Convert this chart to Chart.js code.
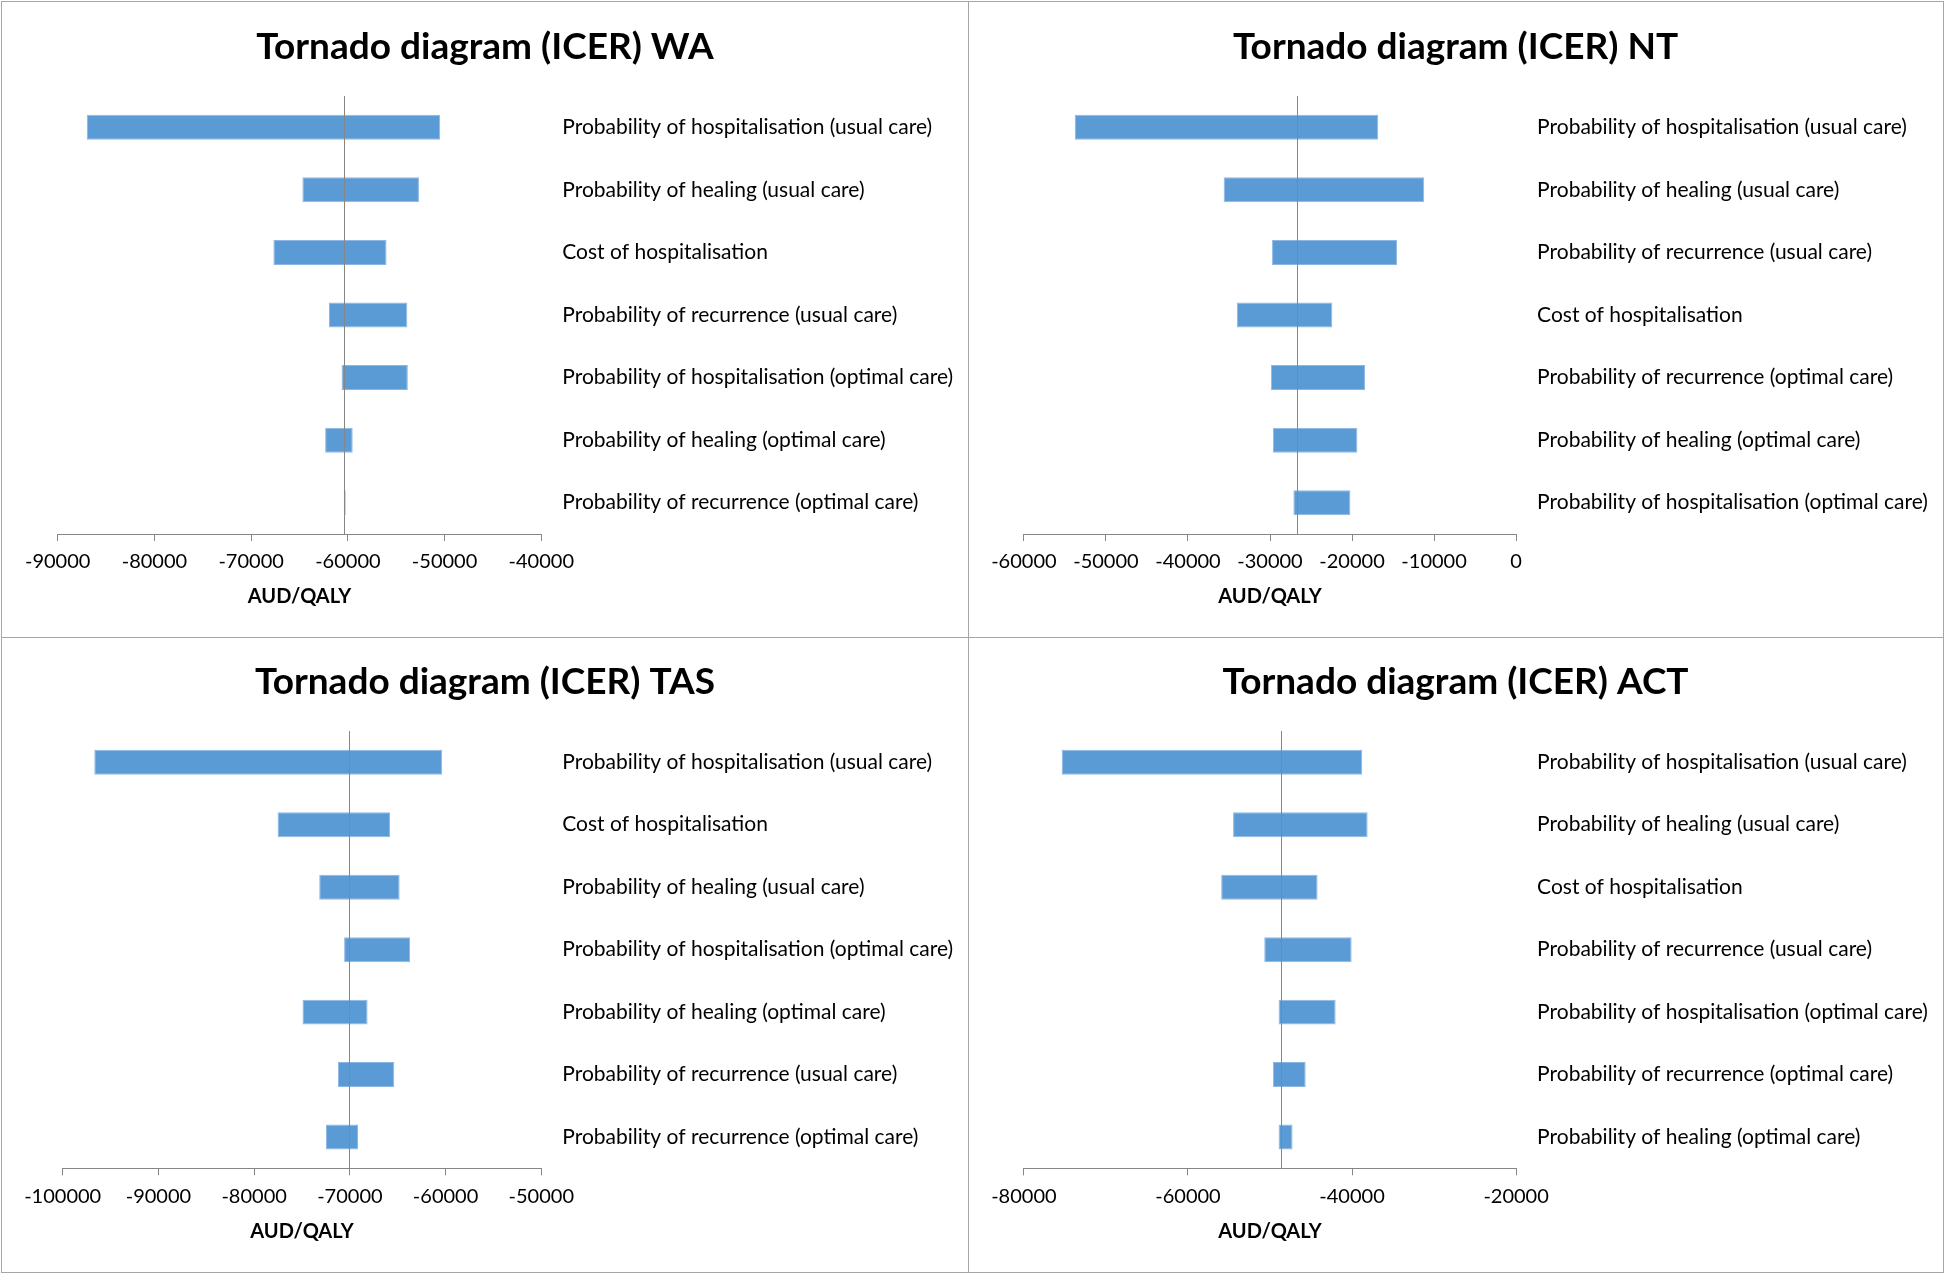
<!DOCTYPE html>
<html>
<head>
<meta charset="utf-8">
<script src="https://cdn.jsdelivr.net/npm/chart.js@4.4.1/dist/chart.umd.min.js"></script>
<style>
  html, body { margin: 0; padding: 0; background: #ffffff; }
  #page { position: relative; width: 1946px; height: 1275px; background: #ffffff; overflow: hidden; }
  .panel { position: absolute; }
  .line { position: absolute; background: #a6a6a6; }
</style>
</head>
<body>
<div id="page">
  <div class="panel" style="left:2px; top:2px; width:966px; height:635px;"><canvas id="cWA" width="966" height="635"></canvas></div>
  <div class="panel" style="left:968px; top:2px; width:975px; height:635px;"><canvas id="cNT" width="975" height="635"></canvas></div>
  <div class="panel" style="left:2px; top:637px; width:966px; height:635px;"><canvas id="cTAS" width="966" height="635"></canvas></div>
  <div class="panel" style="left:968px; top:637px; width:975px; height:635px;"><canvas id="cACT" width="975" height="635"></canvas></div>
  <div class="line" style="left:1px; top:1px; width:1943px; height:1px;"></div>
  <div class="line" style="left:1px; top:1272px; width:1943px; height:1px;"></div>
  <div class="line" style="left:1px; top:1px; width:1px; height:1272px;"></div>
  <div class="line" style="left:1943px; top:1px; width:1px; height:1272px;"></div>
  <div class="line" style="left:968px; top:1px; width:1px; height:1272px;"></div>
  <div class="line" style="left:1px; top:637px; width:1943px; height:1px;"></div>
</div>
<script>
// ---------- DATA ----------
const waLabels = [
  "Probability of hospitalisation (usual care)",
  "Probability of healing (usual care)",
  "Cost of hospitalisation",
  "Probability of recurrence (usual care)",
  "Probability of hospitalisation (optimal care)",
  "Probability of healing (optimal care)",
  "Probability of recurrence (optimal care)"
];
const waLow  = [-87000, -64700, -67700, -61950, -60650, -62350, -60420];
const waHigh = [-50450, -52650, -56000, -53850, -53800, -59500, -60220];
const waBase = -60350;
const waAxis = [-90000, -40000, 10000];

const ntLabels = [
  "Probability of hospitalisation (usual care)",
  "Probability of healing (usual care)",
  "Probability of recurrence (usual care)",
  "Cost of hospitalisation",
  "Probability of recurrence (optimal care)",
  "Probability of healing (optimal care)",
  "Probability of hospitalisation (optimal care)"
];
const ntLow  = [-53800, -35650, -29750, -34050, -29900, -29650, -27150];
const ntHigh = [-16800, -11200, -14500, -22400, -18400, -19350, -20200];
const ntBase = -26700;
const ntAxis = [-60000, 0, 10000];

const tasLabels = [
  "Probability of hospitalisation (usual care)",
  "Cost of hospitalisation",
  "Probability of healing (usual care)",
  "Probability of hospitalisation (optimal care)",
  "Probability of healing (optimal care)",
  "Probability of recurrence (usual care)",
  "Probability of recurrence (optimal care)"
];
const tasLow  = [-96700, -77550, -73200, -70600, -74950, -71250, -72500];
const tasHigh = [-60350, -65800, -64800, -63700, -68150, -65350, -69150];
const tasBase = -70100;
const tasAxis = [-100000, -50000, 10000];

const actLabels = [
  "Probability of hospitalisation (usual care)",
  "Probability of healing (usual care)",
  "Cost of hospitalisation",
  "Probability of recurrence (usual care)",
  "Probability of hospitalisation (optimal care)",
  "Probability of recurrence (optimal care)",
  "Probability of healing (optimal care)"
];
const actLow  = [-75400, -54500, -55950, -50700, -48950, -49650, -48950];
const actHigh = [-38750, -38100, -44200, -40050, -42000, -45650, -47250];
const actBase = -48600;
const actAxis = [-80000, -20000, 20000];

// ---------- STYLE / LAYOUT ----------
const FONT = "Lato, 'Open Sans', 'DejaVu Sans', sans-serif";
const BAR_COLOR = '#5B9BD5';
const BAR_EDGE = '#8db7e2';
const AXIS_COLOR = '#868686';

const baseLinePlugin = {
  id: 'baseLine',
  afterDatasetsDraw(chart, args, opts) {
    const x = Math.round(chart.scales.x.getPixelForValue(opts.value)) + 0.5;
    const {top, bottom} = chart.chartArea;
    const ctx = chart.ctx;
    ctx.save();
    ctx.strokeStyle = AXIS_COLOR;
    ctx.lineWidth = 1;
    ctx.beginPath();
    ctx.moveTo(x, top);
    ctx.lineTo(x, bottom);
    ctx.stroke();
    ctx.restore();
  }
};

function makeChart(id, title, labels, low, high, base, axis, plotLeft, plotRight, plotBottom) {
  const canvas = document.getElementById(id);
  const W = canvas.width, H = canvas.height;
  return new Chart(canvas, {
    type: 'bar',
    data: {
      labels: labels,
      datasets: [{
        data: labels.map((_, i) => [low[i], high[i]]),
        backgroundColor: BAR_COLOR,
        borderColor: BAR_EDGE,
        borderWidth: 1,
        borderSkipped: false,
        categoryPercentage: 1.0,
        barPercentage: 0.4
      }]
    },
    options: {
      indexAxis: 'y',
      responsive: false,
      animation: false,
      layout: { padding: { left: 0, right: 0, top: 0, bottom: 0 } },
      plugins: {
        legend: { display: false },
        tooltip: { enabled: false },
        title: {
          display: true,
          text: title,
          color: '#000000',
          font: { family: FONT, size: 37, weight: 'bold', lineHeight: 1.2 },
          padding: { top: 23, bottom: 26.6 }
        },
        baseLine: { value: base }
      },
      scales: {
        x: {
          type: 'linear',
          position: 'bottom',
          min: axis[0],
          max: axis[1],
          afterBuildTicks(scale) {
            const t = [];
            for (let v = axis[0]; v <= axis[1]; v += axis[2]) t.push({ value: v });
            scale.ticks = t;
          },
          ticks: {
            color: '#000000',
            font: { family: FONT, size: 20, lineHeight: 1.2 },
            padding: 9,
            maxRotation: 0,
            autoSkip: false,
            callback: (v) => String(v)
          },
          grid: { display: true, drawOnChartArea: false, drawTicks: true, tickLength: 7, color: AXIS_COLOR },
          border: { display: true, color: AXIS_COLOR, width: 1 },
          title: {
            display: true,
            text: 'AUD/QALY',
            color: '#000000',
            font: { family: FONT, size: 20, weight: 'bold', lineHeight: 1.2 },
            padding: { top: 4, bottom: 28.7 }
          },
          afterFit(scale) { scale.height = H - plotBottom; }
        },
        y: {
          type: 'category',
          position: 'right',
          offset: true,
          ticks: {
            color: '#000000',
            font: { family: FONT, size: 21, lineHeight: 1.2 },
            padding: 21,
            autoSkip: false
          },
          grid: { display: false, drawTicks: false },
          border: { display: false },
          afterFit(scale) { scale.width = W - plotRight; }
        },
        yLeftSpace: {
          type: 'linear',
          axis: 'y',
          position: 'left',
          display: true,
          min: 0,
          max: 1,
          ticks: { display: false },
          grid: { display: false, drawTicks: false },
          border: { display: false },
          afterFit(scale) { scale.width = plotLeft; }
        }
      }
    },
    plugins: [baseLinePlugin]
  });
}

makeChart('cWA',  'Tornado diagram (ICER) WA',  waLabels,  waLow,  waHigh,  waBase,  waAxis,  55.7, 539.3, 532);
makeChart('cNT',  'Tornado diagram (ICER) NT',  ntLabels,  ntLow,  ntHigh,  ntBase,  ntAxis,  55.9, 548.1, 532);
makeChart('cTAS', 'Tornado diagram (ICER) TAS', tasLabels, tasLow, tasHigh, tasBase, tasAxis, 60.7, 539.3, 531.3);
makeChart('cACT', 'Tornado diagram (ICER) ACT', actLabels, actLow, actHigh, actBase, actAxis, 55.9, 548.1, 531.3);
</script>
</body>
</html>
